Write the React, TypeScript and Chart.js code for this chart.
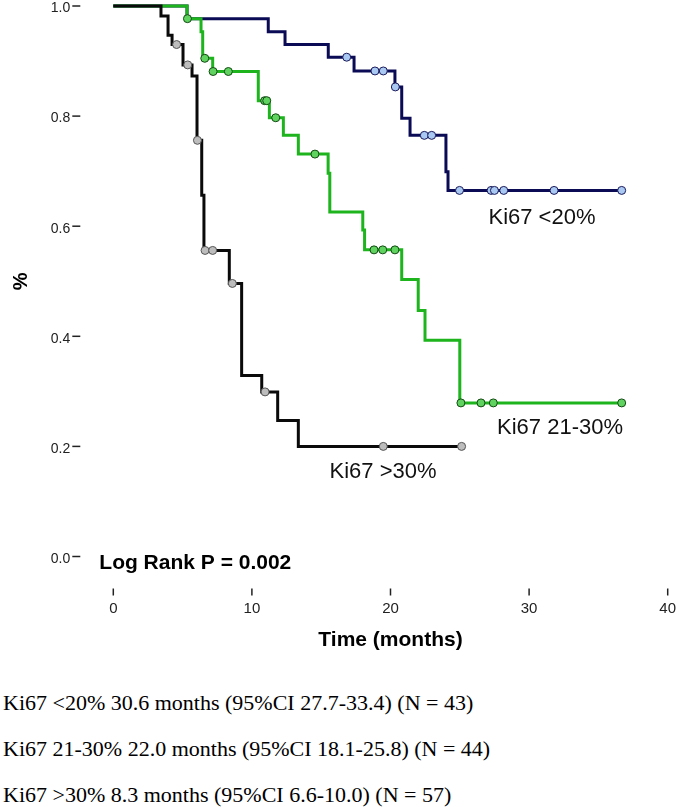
import { useEffect, useRef } from "react";
import { Chart, registerables } from "chart.js";

Chart.register(...registerables);

// Ki67 <20%
const lowEventTimes = [5.32, 11.18, 12.39, 15.51, 17.37, 20.32, 20.81, 21.41, 24.0, 24.15];
const lowSurvival = [0.977, 0.953, 0.930, 0.907, 0.882, 0.853, 0.796, 0.765, 0.699, 0.665];
const lowCensorTimes = [16.84, 18.88, 19.48, 20.35, 22.44, 22.97, 24.98, 27.26, 27.5, 28.17, 31.8, 36.68];

// Ki67 21-30%
const midEventTimes = [5.32, 6.33, 6.45, 7.17, 10.46, 11.26, 12.27, 13.35, 15.5, 15.62, 18.0, 18.13, 20.81, 22.0, 22.49, 25.0];
const midSurvival = [0.977, 0.953, 0.905, 0.881, 0.828, 0.797, 0.765, 0.731, 0.696, 0.626, 0.593, 0.557, 0.503, 0.447, 0.393, 0.279];
const midCensorTimes = [5.35, 6.6, 7.2, 8.3, 10.92, 11.07, 11.72, 14.55, 18.81, 19.44, 20.32, 25.08, 26.53, 27.42, 36.68];

// Ki67 >30%
const highEventTimes = [3.44, 3.95, 4.24, 5.03, 5.68, 6.04, 6.38, 6.54, 8.37, 9.26, 10.71, 11.86, 13.35];
const highSurvival = [0.982, 0.947, 0.930, 0.893, 0.873, 0.756, 0.656, 0.556, 0.496, 0.329, 0.299, 0.247, 0.2];
const highCensorTimes = [4.57, 5.37, 6.07, 6.62, 7.17, 8.59, 10.95, 19.48, 25.13];

const groupNames = ["Ki67 <20%", "Ki67 21-30%", "Ki67 >30%"];
const xTicks = [0, 10, 20, 30, 40];
const yTicks = [0, 0.2, 0.4, 0.6, 0.8, 1.0];
const logRankText = "Log Rank P = 0.002";
const xTitle = "Time (months)";
const yTitle = "%";
const medianLines = [
  "Ki67 <20% 30.6 months (95%CI 27.7-33.4) (N = 43)",
  "Ki67 21-30% 22.0 months (95%CI 18.1-25.8) (N = 44)",
  "Ki67 >30% 8.3 months (95%CI 6.6-10.0) (N = 57)",
];

const sans = "'Liberation Sans', Arial, sans-serif";

const survivalAt = (times: number[], surv: number[], t: number) => {
  let s = 1;
  times.forEach((et, i) => {
    if (et <= t) s = surv[i];
  });
  return s;
};

const stepCurve = (times: number[], surv: number[], censors: number[]) => {
  const end = censors[censors.length - 1];
  return [
    { x: 0, y: 1 },
    ...times.map((t, i) => ({ x: t, y: surv[i] })),
    { x: end, y: survivalAt(times, surv, end) },
  ];
};

const censorMarks = (times: number[], surv: number[], censors: number[]) =>
  censors.map((t) => ({ x: t, y: survivalAt(times, surv, t) }));

const annotations = {
  id: "kmAnnotations",
  afterDraw(chart: any) {
    const { ctx, chartArea, scales } = chart;
    const xs = scales.x;
    const ys = scales.y;
    ctx.save();
    ctx.strokeStyle = "#222";
    ctx.lineWidth = 1.5;
    yTicks.forEach((v) => {
      const py = ys.getPixelForValue(v);
      ctx.beginPath();
      ctx.moveTo(chartArea.left - 41, py);
      ctx.lineTo(chartArea.left - 33, py);
      ctx.stroke();
    });
    xTicks.forEach((v) => {
      const px = xs.getPixelForValue(v);
      ctx.beginPath();
      ctx.moveTo(px, chartArea.bottom + 32);
      ctx.lineTo(px, chartArea.bottom + 39);
      ctx.stroke();
    });

    ctx.fillStyle = "#111";
    ctx.textAlign = "center";
    ctx.textBaseline = "middle";
    ctx.font = `22px ${sans}`;
    const labelSpots = [
      [30.93, 0.615],
      [32.23, 0.233],
      [19.46, 0.154],
    ];
    groupNames.forEach((name, i) => {
      ctx.fillText(name, xs.getPixelForValue(labelSpots[i][0]), ys.getPixelForValue(labelSpots[i][1]));
    });

    ctx.fillStyle = "#000";
    ctx.font = `bold 21px ${sans}`;
    ctx.fillText(xTitle, xs.getPixelForValue(20), chartArea.bottom + 84);
    ctx.textAlign = "left";
    ctx.fillText(logRankText, chartArea.left - 14, chartArea.bottom + 7);

    ctx.translate(chartArea.left - 91.6, ys.getPixelForValue(0.5));
    ctx.rotate(-Math.PI / 2);
    ctx.textAlign = "center";
    ctx.font = `bold 20px ${sans}`;
    ctx.fillText(yTitle, 0, 0);
    ctx.restore();
  },
};

const KaplanMeier: React.FC = () => {
  const chartRef = useRef<HTMLCanvasElement | null>(null);

  useEffect(() => {
    if (!chartRef.current) return;
    const ctx = chartRef.current.getContext("2d");
    if (!ctx) return;

    const lineStyle = { showLine: true, stepped: true, borderWidth: 3, pointRadius: 0, fill: false, clip: false };
    const markStyle = { showLine: false, pointRadius: 4, pointHoverRadius: 4, pointBorderWidth: 1, clip: false };

    const myChart = new Chart(ctx, {
      type: "line",
      data: {
        datasets: [
          { ...lineStyle, label: groupNames[2], data: stepCurve(highEventTimes, highSurvival, highCensorTimes), borderColor: "#0a0a0a", order: 1 },
          { ...markStyle, label: groupNames[2] + " censored", data: censorMarks(highEventTimes, highSurvival, highCensorTimes), backgroundColor: "#bdbdbd", borderColor: "#555", order: 0 },
          { ...lineStyle, label: groupNames[1], data: stepCurve(midEventTimes, midSurvival, midCensorTimes), borderColor: "#1db41d", order: 3 },
          { ...markStyle, label: groupNames[1] + " censored", data: censorMarks(midEventTimes, midSurvival, midCensorTimes), backgroundColor: "#5fd25f", borderColor: "#124a12", order: 2 },
          { ...lineStyle, label: groupNames[0], data: stepCurve(lowEventTimes, lowSurvival, lowCensorTimes), borderColor: "#0b0b55", order: 5 },
          { ...markStyle, label: groupNames[0] + " censored", data: censorMarks(lowEventTimes, lowSurvival, lowCensorTimes), backgroundColor: "#a9c8f2", borderColor: "#1a1a5a", order: 4 },
        ],
      },
      options: {
        animation: false,
        responsive: false,
        maintainAspectRatio: false,
        layout: { padding: { top: 6, right: 13.3, left: 0, bottom: 0 } },
        plugins: { legend: { display: false }, tooltip: { enabled: false } },
        scales: {
          x: {
            type: "linear",
            min: 0,
            max: 40,
            afterBuildTicks: (scale: any) => {
              scale.ticks = xTicks.map((v) => ({ value: v }));
            },
            afterFit: (scale: any) => {
              scale.height = 103.5;
              scale.paddingLeft = 0;
              scale.paddingRight = 0;
            },
            grid: { display: false, drawTicks: false },
            border: { display: false },
            ticks: { padding: 43, color: "#222", font: { family: sans, size: 15 } },
          },
          y: {
            type: "linear",
            min: 0,
            max: 1,
            afterBuildTicks: (scale: any) => {
              scale.ticks = yTicks.map((v) => ({ value: v }));
            },
            afterFit: (scale: any) => {
              scale.width = 113.3;
              scale.paddingTop = 0;
              scale.paddingBottom = 0;
            },
            grid: { display: false, drawTicks: false },
            border: { display: false },
            ticks: {
              padding: 43,
              labelOffset: 2.5,
              color: "#222",
              font: { family: sans, size: 14, lineHeight: 0.8 },
              callback: (v: any) => Number(v).toFixed(1),
            },
          },
        },
      },
      plugins: [annotations],
    });
    return () => myChart.destroy();
  }, []);

  return <canvas ref={chartRef} width="681" height="660" style={{ display: "block" }} />;
};

export default function App() {
  return (
    <div style={{ position: "absolute", left: 0, top: 0, width: "681px", height: "807px", background: "#fff" }}>
      <KaplanMeier />
      <div style={{ position: "absolute", left: "3px", top: "680px", fontFamily: "'Liberation Serif', 'Times New Roman', serif", fontSize: "22px", lineHeight: "46px", color: "#000", whiteSpace: "nowrap" }}>
        {medianLines.map((line) => (
          <div key={line}>{line}</div>
        ))}
      </div>
    </div>
  );
}
